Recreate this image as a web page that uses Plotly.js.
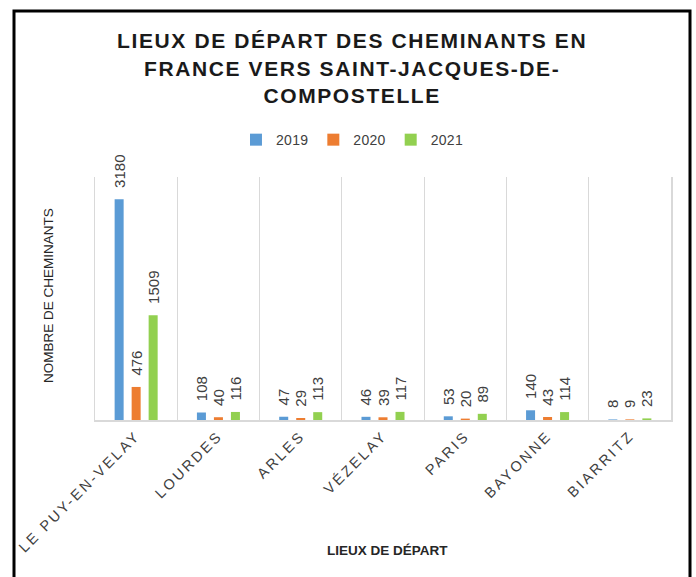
<!DOCTYPE html>
<html>
<head>
<meta charset="utf-8">
<script src="https://cdn.plot.ly/plotly-3.0.1.min.js"></script>
<style>
  body { margin: 0; background: #fff; }
  #chart { width: 696px; height: 577px; }
  .gtitle { letter-spacing: 1.6px; }
  .xtick text { letter-spacing: 2.6px; }
  .legendtext { letter-spacing: 0.3px; }
</style>
</head>
<body>
<div id="chart"></div>
<script>
const lieux = ['LE PUY-EN-VELAY', 'LOURDES', 'ARLES', 'VÉZELAY', 'PARIS', 'BAYONNE', 'BIARRITZ'];
const annees = ['2019', '2020', '2021'];
const val2019 = [3180, 108, 47, 46, 53, 140, 8];
const val2020 = [476, 40, 29, 39, 20, 43, 9];
const val2021 = [1509, 116, 113, 117, 89, 114, 23];
const couleurs = ['#5b9bd5', '#ed7d31', '#92d050'];

const series = [val2019, val2020, val2021];
// nbsp devant le nombre pour laisser un écart au-dessus de la barre, comme dans Excel
const traces = series.map((vals, i) => ({
    type: 'bar',
    name: annees[i],
    x: lieux,
    y: vals,
    marker: { color: couleurs[i] },
    text: vals.map(v => '\u00a0\u00a0' + v),
    textposition: 'outside',
    textangle: -90,
    constraintext: 'none',
    cliponaxis: false,
    textfont: { family: 'Liberation Sans, Arial, sans-serif', size: 15, color: '#404040' },
    hoverinfo: 'x+y+name'
}));

const layout = {
    width: 696,
    height: 577,
    margin: { l: 95, r: 25, t: 177, b: 157 },
    paper_bgcolor: '#fff',
    plot_bgcolor: '#fff',
    font: { family: 'Liberation Sans, Arial, sans-serif', color: '#404040' },
    title: {
        text: 'LIEUX DE DÉPART DES CHEMINANTS EN<br>FRANCE VERS SAINT-JACQUES-DE-<br>COMPOSTELLE',
        font: { size: 21, color: '#1a1a1a', weight: 'bold' },
        x: 0.506, xanchor: 'center',
        y: 0.916, yanchor: 'top'
    },
    barmode: 'group',
    bargap: 0.38,
    bargroupgap: 0.47,
    showlegend: true,
    legend: {
        orientation: 'h',
        x: 0.447, xanchor: 'center',
        y: 1.152, yanchor: 'middle',
        font: { size: 14, color: '#404040' },
        itemwidth: 30,
        traceorder: 'normal'
    },
    xaxis: {
        type: 'category',
        tickson: 'boundaries',
        showgrid: true,
        gridcolor: '#d9d9d9',
        gridwidth: 1,
        showline: true,
        linecolor: '#d9d9d9',
        linewidth: 1.5,
        ticks: '',
        tickangle: -45,
        tickfont: { size: 14.5, color: '#404040' },
        automargin: false
    },
    yaxis: {
        range: [0, 3500],
        showticklabels: false,
        showgrid: false,
        zeroline: false,
        showline: true,
        mirror: true,
        linecolor: '#d9d9d9',
        linewidth: 1.5,
        ticks: ''
    },
    annotations: [
        {
            text: 'NOMBRE DE CHEMINANTS',
            xref: 'paper', yref: 'paper',
            x: (48 - 95) / 576, y: 0.51,
            xanchor: 'center', yanchor: 'middle',
            textangle: -90, showarrow: false,
            font: { size: 13.5, color: '#262626' }
        },
        {
            text: '<b>LIEUX DE DÉPART</b>',
            xref: 'paper', yref: 'paper',
            x: (387 - 95) / 576, y: (420 - 550) / 243,
            xanchor: 'center', yanchor: 'middle',
            showarrow: false,
            font: { size: 13.5, color: '#262626' }
        }
    ],
    shapes: [
        {
            type: 'rect', xref: 'paper', yref: 'paper',
            x0: (14 - 95) / 576, x1: (690 - 95) / 576,
            y0: (420 - 585) / 243, y1: (420 - 11) / 243,
            line: { color: '#000', width: 3 },
            fillcolor: 'rgba(0,0,0,0)'
        }
    ]
};

Plotly.newPlot('chart', traces, layout, { displayModeBar: false, staticPlot: true });
</script>
</body>
</html>
